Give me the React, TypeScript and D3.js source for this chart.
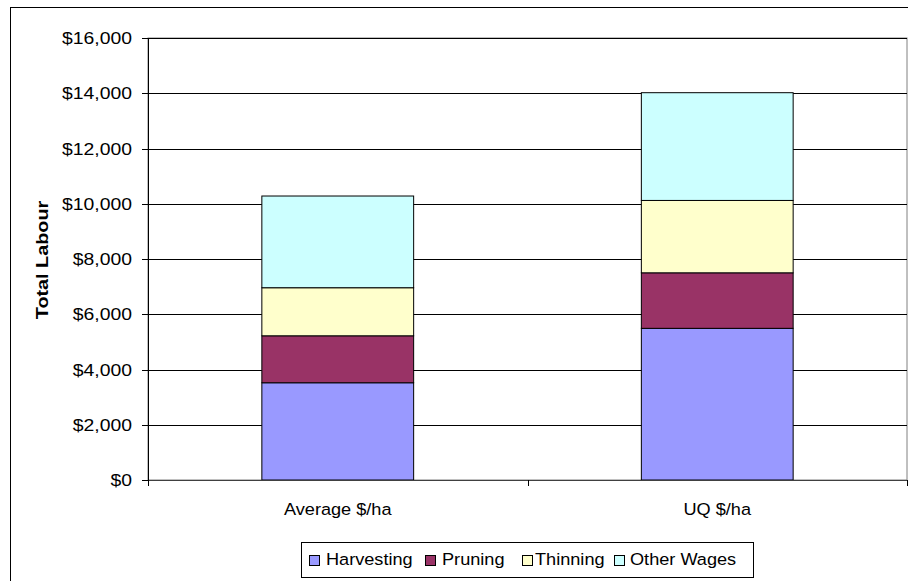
import React from "react";
import * as d3 from "d3";

const categories = ["Average $/ha", "UQ $/ha"];
const seriesNames = ["Harvesting", "Pruning", "Thinning", "Other Wages"];
const harvesting = [3520, 5490];
const pruning = [1700, 2010];
const thinning = [1740, 2620];
const otherWages = [3320, 3900];
const yTicks = [0, 2000, 4000, 6000, 8000, 10000, 12000, 14000, 16000];
const colors = ["#9999FF", "#993366", "#FFFFCC", "#CCFFFF"];

function SText(props: { x: number; y: number; sx?: number; size: number; anchor?: string; bold?: boolean; rotate?: number; dy?: string; children: any }) {
  const { x, y, sx = 1.1, size, anchor = "start", bold, rotate = 0, dy, children } = props;
  return (
    <text
      transform={`translate(${x},${y}) rotate(${rotate}) scale(${sx},1)`}
      textAnchor={anchor}
      fontSize={size}
      fontWeight={bold ? "bold" : "normal"}
      dy={dy}
      fill="#000"
    >
      {children}
    </text>
  );
}

export default function App() {
  const W = 908, H = 581;
  const left = 148, right = 907, top = 38, bottom = 480;
  const x = d3.scaleBand<string>().domain(categories).range([left, right]).paddingInner(0).paddingOuter(0);
  const y = d3.scaleLinear().domain([0, 16000]).range([bottom, top]);
  const rows = categories.map((c, i) => ({
    cat: c,
    Harvesting: harvesting[i],
    Pruning: pruning[i],
    Thinning: thinning[i],
    "Other Wages": otherWages[i],
  }));
  const stack = d3.stack<any>().keys(seriesNames)(rows);
  const bw = x.bandwidth() * 0.4;
  const fmt = (v: number) => "$" + d3.format(",")(v);
  const font = "Liberation Sans, Arial, sans-serif";
  const boundaries = [left, ...categories.map((c) => (x(c) as number) + x.bandwidth())];

  const legendItems = [
    { name: "Harvesting", sq: 310, tx: 326 },
    { name: "Pruning", sq: 426, tx: 442 },
    { name: "Thinning", sq: 523, tx: 535 },
    { name: "Other Wages", sq: 615, tx: 630 },
  ];

  return (
    <svg width={W} height={H} style={{ position: "absolute", left: 0, top: 0, background: "#fff" }} fontFamily={font}>
      <rect x={10.5} y={7.5} width={W + 10} height={H + 10} fill="#fff" stroke="#000" strokeWidth={1} />
      <rect x={left} y={top} width={right - left} height={bottom - top} fill="#fff" stroke="#808080" strokeWidth={1} />
      {yTicks.map((t) => (
        <line key={"g" + t} x1={left} x2={right} y1={Math.round(y(t)) + 0.5} y2={Math.round(y(t)) + 0.5} stroke="#000" strokeWidth={1} />
      ))}
      {stack.map((s, si) =>
        s.map((d, i) => {
          const cx = (x(categories[i]) as number) + x.bandwidth() / 2;
          return (
            <rect
              key={si + "-" + i}
              x={cx - bw / 2}
              y={y(d[1])}
              width={bw}
              height={y(d[0]) - y(d[1])}
              fill={colors[si]}
              stroke="#000"
              strokeWidth={1}
            />
          );
        })
      )}
      <line x1={left + 0.5} x2={left + 0.5} y1={top} y2={bottom + 6} stroke="#000" />
      {yTicks.map((t) => (
        <g key={"t" + t}>
          <line x1={left - 6} x2={left} y1={Math.round(y(t)) + 0.5} y2={Math.round(y(t)) + 0.5} stroke="#000" />
          <SText x={132} y={y(t)} dy="0.36em" anchor="end" size={17} sx={1.14}>
            {fmt(t)}
          </SText>
        </g>
      ))}
      <line x1={left} x2={right} y1={bottom + 0.5} y2={bottom + 0.5} stroke="#404040" strokeWidth={1.2} />
      {boundaries.map((b, i) => (
        <line key={"xb" + i} x1={Math.round(b) + 0.5} x2={Math.round(b) + 0.5} y1={bottom} y2={bottom + 6} stroke="#000" />
      ))}
      {categories.map((c) => (
        <SText key={c} x={(x(c) as number) + x.bandwidth() / 2} y={515} anchor="middle" size={16.5}>
          {c}
        </SText>
      ))}
      <SText x={48} y={260} rotate={-90} anchor="middle" size={16.5} bold sx={1.2}>
        Total Labour
      </SText>
      <rect x={301.5} y={542.5} width={452} height={35} fill="#fff" stroke="#000" strokeWidth={1} />
      {legendItems.map((it, i) => (
        <g key={it.name}>
          <rect x={it.sq - 0.5} y={555.5} width={10} height={10} fill={colors[i]} stroke="#000" strokeWidth={1} />
          <SText x={it.tx} y={565} size={16.5}>
            {it.name}
          </SText>
        </g>
      ))}
    </svg>
  );
}
